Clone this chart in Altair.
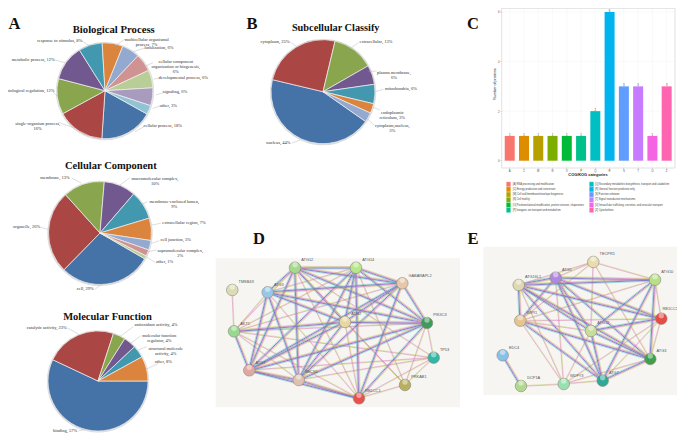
import math
import altair as alt
import pandas as pd

# ---------- values ----------
bp_labels = ["cellular process, 18%", "single-organism process,\n16%", "biological regulation, 12%",
             "metabolic process, 12%", "response to stimulus, 8%", "multicellular organismal\nprocess, 7%",
             "localization, 6%", "cellular component\norganization or biogenesis,\n6%",
             "developmental process, 6%", "signaling, 6%", "other, 3%"]
bp_values = [18, 16, 12, 12, 8, 7, 6, 6, 6, 6, 3]

cc_labels = ["cell, 29%", "organelle, 26%", "membrane, 13%", "macromolecular complex,\n10%",
             "membrane-enclosed lumen,\n9%", "extracellular region, 7%", "cell junction, 3%",
             "supramolecular complex,\n2%", "other, 1%"]
cc_values = [29, 26, 13, 10, 9, 7, 3, 2, 1]

mf_labels = ["binding, 57%", "catalytic activity, 23%", "antioxidant activity, 4%",
             "molecular function\nregulator, 4%", "structural molecule\nactivity, 4%", "other, 8%"]
mf_values = [57, 23, 4, 4, 4, 8]

sc_labels = ["nucleus, 44%", "cytoplasm, 25%", "extracellular, 13%", "plasma membrane,\n6%",
             "mitochondria, 6%", "endoplasmic\nreticulum, 3%", "cytoplasm,nucleus,\n3%"]
sc_values = [44, 25, 13, 6, 6, 3, 3]

cog_codes = ["A", "C", "M", "N", "O", "P", "Q", "R", "S", "T", "U", "Z"]
cog_counts = [1, 1, 1, 1, 1, 1, 2, 6, 3, 3, 1, 3]
cog_names = ["[A] RNA processing and modification", "[C] Energy production and conversion",
             "[M] Cell wall/membrane/envelope biogenesis", "[N] Cell motility",
             "[O] Posttranslational modification, protein turnover, chaperones",
             "[P] Inorganic ion transport and metabolism",
             "[Q] Secondary metabolites biosynthesis, transport and catabolism",
             "[R] General function prediction only", "[S] Function unknown",
             "[T] Signal transduction mechanisms",
             "[U] Intracellular trafficking, secretion, and vesicular transport", "[Z] Cytoskeleton"]

d_nodes = ["TMSB4X", "ATG12", "ATG14", "GABARAPL2", "ATG3", "AKT1", "ATG2", "PIK3C3", "TP53",
           "PRKAB1", "RB1CC1", "BECN1", "ATG7"]
d_x = [232.3, 295, 356, 402.3, 267.7, 234, 345, 427, 433.7, 405, 359, 298.7, 249.3]
d_y = [290, 267.7, 267.7, 283.3, 292.3, 331.3, 322, 323, 357.7, 385, 398.3, 380, 370.3]
d_strong = [("ATG12", "ATG14"), ("ATG12", "GABARAPL2"), ("ATG12", "ATG3"), ("ATG12", "ATG2"), ("ATG12", "PIK3C3"),
            ("ATG12", "ATG7"), ("ATG12", "BECN1"), ("ATG14", "GABARAPL2"), ("ATG14", "PIK3C3"), ("ATG14", "BECN1"),
            ("ATG14", "ATG7"), ("ATG14", "ATG2"), ("ATG14", "RB1CC1"), ("GABARAPL2", "ATG3"), ("GABARAPL2", "ATG7"),
            ("GABARAPL2", "BECN1"), ("GABARAPL2", "PIK3C3"), ("GABARAPL2", "ATG2"), ("ATG3", "ATG7"), ("ATG3", "BECN1"),
            ("ATG3", "ATG2"), ("ATG3", "PIK3C3"), ("ATG2", "BECN1"), ("ATG2", "ATG7"), ("ATG2", "PIK3C3"),
            ("BECN1", "PIK3C3"), ("ATG7", "PIK3C3"), ("ATG7", "BECN1"), ("AKT1", "ATG2"), ("BECN1", "RB1CC1"),
            ("ATG7", "RB1CC1"), ("GABARAPL2", "RB1CC1"), ("PIK3C3", "RB1CC1"), ("AKT1", "ATG7")]
d_light = [("TMSB4X", "AKT1"), ("AKT1", "ATG12"), ("AKT1", "ATG14"), ("AKT1", "ATG3"), ("AKT1", "GABARAPL2"),
           ("AKT1", "PIK3C3"), ("AKT1", "TP53"), ("AKT1", "BECN1"), ("AKT1", "RB1CC1"),
           ("ATG12", "RB1CC1"), ("ATG14", "ATG3"), ("ATG3", "RB1CC1"), ("ATG2", "RB1CC1"),
           ("PIK3C3", "TP53"), ("PIK3C3", "PRKAB1"), ("TP53", "ATG7"), ("TP53", "BECN1"),
           ("TP53", "RB1CC1"), ("TP53", "ATG12"), ("TP53", "PRKAB1"), ("PRKAB1", "RB1CC1"), ("PRKAB1", "ATG14"),
           ("PRKAB1", "ATG12"), ("PRKAB1", "ATG2")]

e_nodes = ["TECPR1", "ATG5", "ATG10", "ATG16L1", "WIPI1", "RB1CC1", "ATG12", "ATG3", "EDC4", "DCP1A", "WDFY3", "ATG7"]
e_x = [593.3, 555.7, 655, 518.7, 520.3, 661.3, 591, 650.3, 502.7, 521, 563.7, 602.7]
e_y = [262, 277.7, 279.7, 285, 320.7, 318.7, 331, 359, 355.3, 386, 384, 380.7]
e_strong = [("ATG5", "ATG10"), ("ATG5", "RB1CC1"), ("ATG5", "ATG12"), ("ATG5", "ATG3"), ("ATG5", "ATG7"),
            ("ATG5", "ATG16L1"), ("ATG5", "WIPI1"), ("ATG16L1", "ATG10"), ("ATG16L1", "RB1CC1"), ("ATG16L1", "ATG3"),
            ("ATG16L1", "ATG12"), ("ATG16L1", "ATG7"), ("ATG16L1", "WIPI1"), ("WIPI1", "ATG7"), ("WIPI1", "ATG3"),
            ("ATG10", "ATG12"), ("ATG10", "ATG3"), ("ATG10", "ATG7"), ("RB1CC1", "ATG12"), ("ATG12", "ATG3"),
            ("ATG12", "ATG7"), ("ATG3", "ATG7"), ("EDC4", "DCP1A")]
e_light = [("TECPR1", "ATG5"), ("TECPR1", "ATG10"), ("TECPR1", "ATG12"), ("TECPR1", "ATG3"), ("TECPR1", "WIPI1"),
           ("TECPR1", "ATG16L1"), ("ATG5", "WDFY3"), ("ATG16L1", "WDFY3"), ("WIPI1", "RB1CC1"), ("WIPI1", "ATG10"),
           ("WIPI1", "ATG12"), ("WIPI1", "WDFY3"), ("ATG10", "RB1CC1"), ("RB1CC1", "ATG3"), ("RB1CC1", "ATG7"),
           ("RB1CC1", "WDFY3"), ("ATG12", "WDFY3"), ("ATG3", "WDFY3"), ("ATG7", "WDFY3"), ("DCP1A", "WDFY3")]

# ---------- styles and layout (image pixels) ----------
W, H = 669, 425
OX, OY = 8, 8
EXCEL = ["#4572A7", "#AA4643", "#89A54E", "#71588F", "#4198AF", "#DB843D",
         "#93A9CF", "#D19392", "#B9CD96", "#A99BBD", "#91C3D5"]
HUES = ["#F8766D", "#DE8C00", "#B79F00", "#7CAE00", "#00BA38", "#00C08B",
        "#00BFC4", "#00B4F0", "#619CFF", "#C77CFF", "#F564E3", "#FF64B0"]
D_COL = ["#dcdcb4", "#a6d98c", "#b9e68a", "#e6c8a8", "#98c8e8", "#98d890", "#e6d8a0", "#3f9a5c",
         "#2fb8a8", "#b8b060", "#e8504e", "#e0c0b0", "#e0a8a0"]
E_COL = ["#e8dcb0", "#b088e0", "#b8e088", "#e0d8b0", "#e6c490", "#e84a48", "#c8dc9c", "#3f9f4c",
         "#88c0e8", "#b0d890", "#98e0b0", "#2fa898"]
SERIF, SANS = "Liberation Serif", "Liberation Sans"
SX = alt.Scale(domain=[OX, OX + W], range=[0, W])
SY = alt.Scale(domain=[OY, OY + H], range=[0, H])

PIE_GEOM = [(105, 90.7, 48, 119), (100, 233, 51.5, 120), (98, 381, 50, 90), (323, 91.7, 52, 125)]
TITLES = [("Biological Process", 113.7, 33, 10.7), ("Cellular Component", 110.8, 169, 10.5),
          ("Molecular Function", 107.5, 320, 10.5), ("Subcellular Classify", 335.7, 31, 10.3)]
LETTERS = [("A", 14.5, 29), ("B", 252, 29), ("C", 473, 29), ("D", 259, 244), ("E", 473, 244)]

ANNOT = [  # label centre, leader start, leader end
    [(162.7, 126.3, 144, 126.7, 135, 131.7), (37.7, 124.3, 58.3, 122.3, 75, 128.3), (30.5, 90.7, 53, 92, 57, 96),
     (33.3, 59.7, 55, 60, 65, 62.7), (59.7, 40.7, 81.7, 40.7, 90.7, 46.7), (146.7, 39.5, 125, 39, 114, 46.7),
     (159, 48.2, 145, 48, 133.3, 51.7), (175.7, 61.7, 153, 62.7, 145.7, 66), (183.3, 77.7, 159.3, 77.7, 154, 79.3),
     (175, 91.7, 163.3, 92.7, 155.7, 95), (168.3, 105.7, 160, 106, 152.7, 108.3)],
    [(85.3, 289.3, 95, 289.3, 101.7, 284.3), (26.7, 227.3, 40.7, 227.3, 47.7, 229.3), (55, 178, 71.7, 178, 81.7, 183.3),
     (155, 179.3, 130, 177.7, 120, 185), (174.3, 202.3, 147.7, 201.7, 140, 205), (184, 222.7, 160.7, 223.3, 151.7, 225),
     (175.7, 240, 159.3, 240.7, 151.7, 243.3), (180.3, 251, 156.7, 250, 148.3, 251.7), (164.7, 262.3, 155, 262.3, 146, 256.7)],
    [(65, 430.5, 78.3, 431, 85, 429), (46.7, 328, 67.7, 328, 78.3, 334), (156, 325, 133.3, 326.7, 120.7, 336),
     (159.3, 335.7, 140.7, 335.7, 131, 343.3), (165.7, 348.7, 146.7, 346.7, 138.3, 350), (163.3, 362, 158.3, 363.3, 146.7, 369)],
    [(278.3, 143.3, 291.7, 143.3, 300, 140), (275, 41.7, 289.3, 41.7, 297.3, 46.7), (376, 41.7, 358.3, 42.7, 348.3, 50),
     (394, 73.3, 376.7, 71, 368.3, 71.7), (401, 89, 383.3, 89.3, 375, 91.7), (392.3, 113, 380, 110, 373.3, 107.3),
     (392.3, 126, 374, 125, 366.7, 118.3)],
]

layers = []


def px(v):
    return alt.X(v, type="quantitative", scale=SX, axis=None)


def py(v):
    return alt.Y(v, type="quantitative", scale=SY, axis=None)


def xy2():
    return dict(x=px("x"), y=py("y"), x2=alt.X2("x2"), y2=alt.Y2("y2"))


# ---------- pies ----------
for (labels, values), (cx, cy, r, start), notes in zip(
        [(bp_labels, bp_values), (cc_labels, cc_values), (mf_labels, mf_values), (sc_labels, sc_values)],
        PIE_GEOM, ANNOT):
    df = pd.DataFrame({"label": labels, "value": values, "i": range(len(labels))})
    a0 = math.radians(start)
    theta = alt.Theta("value:Q", stack=True, scale=alt.Scale(domain=[0, 100], range=[a0, a0 + 2 * math.pi]))
    color = alt.Color("label:N", legend=None,
                      scale=alt.Scale(domain=labels, range=EXCEL[:len(labels)]))
    layers.append(alt.Chart(df).mark_arc(outerRadius=r + 1.2, fill="#dcdcdc").encode(
        theta=theta, order=alt.Order("i:Q"), x=alt.value(cx - OX), y=alt.value(cy - OY + 0.4)))
    layers.append(alt.Chart(df).mark_arc(outerRadius=r, stroke="#f2f2f2", strokeWidth=0.7).encode(
        theta=theta, color=color, order=alt.Order("i:Q"), x=alt.value(cx - OX), y=alt.value(cy - OY)))
    ann = pd.DataFrame([{"label": l, "tx": n[0], "ty": n[1], "x": n[2], "y": n[3], "x2": n[4], "y2": n[5]}
                        for l, n in zip(labels, notes)])
    layers.append(alt.Chart(ann).mark_rule(color="#a8a8a8", strokeWidth=0.4).encode(**xy2()))
    layers.append(alt.Chart(ann).mark_text(font=SERIF, fontSize=4.5, color="#333", lineBreak="\n",
                                           baseline="middle", lineHeight=5).encode(
        x=px("tx"), y=py("ty"), text="label:N"))

# ---------- titles and panel letters ----------
tdf = pd.DataFrame(TITLES, columns=["t", "x", "y", "s"])
layers.append(alt.Chart(tdf).mark_text(font=SERIF, fontWeight="bold", color="#111", baseline="alphabetic").encode(
    x=px("x"), y=py("y"), text="t:N", size=alt.Size("s:Q", scale=None, legend=None)))
ldf = pd.DataFrame(LETTERS, columns=["t", "x", "y"])
layers.append(alt.Chart(ldf).mark_text(font=SERIF, fontWeight="bold", fontSize=16.5, color="#111",
                                       baseline="alphabetic").encode(x=px("x"), y=py("y"), text="t:N"))

# ---------- bar panel ----------
BAR_L, BAR_R, BAR_T, BAR_B = 501.7, 675, 8.4, 168
Y0, Y6 = 160.7, 12
XBAND = alt.Scale(domain=cog_codes, range=[502.6 - OX, 673.8 - OX], paddingInner=0.3, paddingOuter=0.15)
YBAR = alt.Scale(domain=[0, 6], range=[Y0 - OY, Y6 - OY])
bdf = pd.DataFrame({"code": cog_codes, "n": cog_counts, "name": cog_names, "i": range(12)})
col = alt.Color("code:N", legend=None, scale=alt.Scale(domain=cog_codes, range=HUES))
xbar = alt.X("code:N", scale=XBAND, sort=cog_codes, axis=None)
ybar = alt.Y("n:Q", scale=YBAR, axis=None)

layers.append(alt.Chart(bdf).mark_rule(color="#f1f1f1", strokeWidth=0.4).encode(
    x=xbar, y=alt.value(BAR_T - OY), y2=alt.value(BAR_B - OY)))
grid_df = pd.DataFrame({"t": [0, 2, 4, 6]})
layers.append(alt.Chart(grid_df).mark_rule(color="#f1f1f1", strokeWidth=0.4).encode(
    y=alt.Y("t:Q", scale=YBAR, axis=None), x=alt.value(BAR_L - OX), x2=alt.value(BAR_R - OX)))
layers.append(alt.Chart(bdf).mark_bar(width=10).encode(x=xbar, y=ybar, y2=alt.datum(0), color=col))
layers.append(alt.Chart(bdf).mark_text(fontSize=2.8, font=SANS, color="#444", dy=-1.8).encode(x=xbar, y=ybar, text="n:Q"))

frame = pd.DataFrame({"x": [BAR_L], "y": [BAR_T], "x2": [BAR_R], "y2": [BAR_B]})
layers.append(alt.Chart(frame).mark_rect(fill=None, stroke="#cfcfcf", strokeWidth=0.6).encode(**xy2()))

# tick labels and ticks of bar panel
layers.append(alt.Chart(bdf).mark_tick(color="#666", thickness=0.3, size=1.5, orient="vertical").encode(
    x=xbar, y=alt.value(BAR_B - OY + 0.8)))
layers.append(alt.Chart(bdf).mark_text(fontSize=2.8, font=SANS, color="#555").encode(
    x=xbar, y=alt.value(170.5 - OY), text="code:N"))
layers.append(alt.Chart(grid_df).mark_text(fontSize=2.8, font=SANS, color="#555", align="right").encode(
    y=alt.Y("t:Q", scale=YBAR, axis=None), x=alt.value(499.5 - OX), text="t:Q"))
layers.append(alt.Chart(grid_df).mark_tick(color="#666", thickness=0.3, size=1.5, orient="horizontal").encode(
    y=alt.Y("t:Q", scale=YBAR, axis=None), x=alt.value(500.8 - OX)))

ax_titles = pd.DataFrame({"t": ["COG/KOG categories"], "x": [588], "y": [175]})
layers.append(alt.Chart(ax_titles).mark_text(fontSize=3.9, font=SANS, fontWeight="bold", color="#222").encode(
    x=px("x"), y=py("y"), text="t:N"))
y_title = pd.DataFrame({"t": ["Number of proteins"], "x": [495], "y": [84]})
layers.append(alt.Chart(y_title).mark_text(fontSize=3.7, font=SANS, color="#222", angle=270).encode(
    x=px("x"), y=py("y"), text="t:N"))

# legend of bar panel
ROWS = [184.3, 189.4, 194.6, 199.8, 205, 210.1]
lg = bdf.copy()
lg["ly"] = [ROWS[i % 6] for i in lg["i"]]
lg["lx"] = [506.3 if i < 6 else 589.3 for i in lg["i"]]
lg["lx2"] = [510.7 if i < 6 else 593.7 for i in lg["i"]]
lg["tx"] = [512.7 if i < 6 else 595 for i in lg["i"]]
lg["y0"] = lg["ly"] - 2.5
lg["y1"] = lg["ly"] + 2.5
layers.append(alt.Chart(lg).mark_rect(stroke="#ffffff", strokeWidth=0.2).encode(
    x=px("lx"), x2=alt.X2("lx2"), y=py("y0"), y2=alt.Y2("y1"), color=col))
layers.append(alt.Chart(lg).mark_text(fontSize=2.55, font=SANS, color="#444", align="left").encode(
    x=px("tx"), y=py("ly"), text="name:N"))

# ---------- networks ----------
STRONG = [("#c9d65a", 0.5, -1.3), ("#d35fb7", 0.6, -0.5), ("#7f72c9", 1.0, 0.4), ("#52c2c8", 0.5, 1.3)]
LIGHT = [("#bfd04a", 0.45, -0.35), ("#d35fb7", 0.45, 0.35)]


def edges(nodes, xs, ys, pairs, bundle):
    pos = {n: (a, b) for n, a, b in zip(nodes, xs, ys)}
    rows = []
    for a, b in pairs:
        (x1, y1), (x2, y2) = pos[a], pos[b]
        ln = math.hypot(x2 - x1, y2 - y1)
        nx, ny = -(y2 - y1) / ln, (x2 - x1) / ln
        for c, w, o in bundle:
            rows.append({"x": x1 + nx * o, "y": y1 + ny * o, "x2": x2 + nx * o, "y2": y2 + ny * o, "c": c, "w": w})
    return rows


for (x0, y0, x1, y1), nodes, xs, ys, strong, light, cols, lift in [
    ((215.7, 258.3, 460, 407.3), d_nodes, d_x, d_y, d_strong, d_light, D_COL, {}),
    ((483.3, 246.7, 677, 395), e_nodes, e_x, e_y, e_strong, e_light, E_COL, {"RB1CC1": -1.8}),
]:
    bg = pd.DataFrame({"x": [x0], "y": [y0], "x2": [x1], "y2": [y1]})
    layers.append(alt.Chart(bg).mark_rect(fill="#f6f5f1").encode(**xy2()))
    edf = pd.DataFrame(edges(nodes, xs, ys, light, LIGHT) + edges(nodes, xs, ys, strong, STRONG))
    layers.append(alt.Chart(edf).mark_rule(opacity=0.9).encode(
        **xy2(), color=alt.Color("c:N", scale=None, legend=None),
        strokeWidth=alt.StrokeWidth("w:Q", scale=None, legend=None)))
    ndf = pd.DataFrame({"n": nodes, "x": xs, "y": ys, "c": cols})
    ndf["lx"] = [min(a + 6.2, 677 - 14.5) for a in xs]
    ndf["ly"] = [b - 7.7 + lift.get(n, 0) for b, n in zip(ys, nodes)]
    layers.append(alt.Chart(ndf).mark_circle(size=135, opacity=1, stroke="#8a8a7a", strokeWidth=0.6).encode(
        x=px("x"), y=py("y"), color=alt.Color("c:N", scale=None, legend=None)))
    layers.append(alt.Chart(ndf).mark_circle(size=28, opacity=0.45, color="white", yOffset=-3).encode(
        x=px("x"), y=py("y")))
    layers.append(alt.Chart(ndf).mark_text(fontSize=3.9, font=SANS, color="#555", align="left").encode(
        x=px("lx"), y=py("ly"), text="n:N"))

chart = alt.layer(*layers).resolve_scale(
    x="independent", y="independent", color="independent", theta="independent"
).properties(
    width=W, height=H, padding=0, autosize=alt.AutoSizeParams(type="none"), background="white"
).configure_view(stroke=None)

chart.save("out.html", embed_options={"renderer": "svg", "actions": False})
